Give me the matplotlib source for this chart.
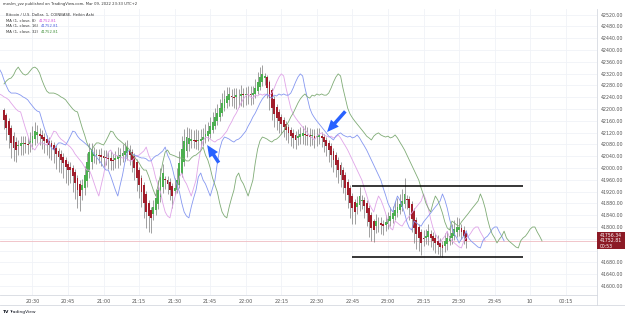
import matplotlib
matplotlib.use("Agg")
import matplotlib.pyplot as plt
from matplotlib.patches import Rectangle
from matplotlib.lines import Line2D
import numpy as np

# ---------------- data ----------------
# closes of the 32 one-minute bars before the first visible candle (only seen through the shifted MAs)
hist_close = [42285, 42295, 42302, 42305, 42315, 42332, 42342, 42329, 42319, 42315,
              42319, 42329, 42339, 42342, 42336, 42322, 42298, 42278, 42261, 42254,
              42254, 42254, 42251, 42247, 42241, 42237, 42231, 42220, 42210, 42200,
              42193, 42190]

# Heikin Ashi closes of the visible candles, 20:18 ... 23:33 (one per minute)
ha_close = [42163, 42136, 42112, 42085, 42068, 42061, 42075, 42085, 42085, 42081,
            42078, 42092, 42108, 42125, 42122, 42108, 42098, 42092, 42085, 42078,
            42071, 42061, 42047, 42037, 42027, 42017, 42003, 41993, 41993, 41973,
            41949, 41925, 41905, 41942, 41976, 42020, 42054, 42061, 42047, 42044,
            42041, 42037, 42034, 42034, 42031, 42024,
            42024, 42034, 42041, 42044, 42051, 42058, 42071, 42044, 42027, 42000,
            41966, 41942, 41919, 41881, 41851, 41837, 41831, 41868, 41898, 41925,
            41970, 41983, 41959, 41946, 41925, 41905, 41932, 41959, 42017, 42064,
            42092, 42105, 42102, 42098, 42092, 42088, 42095, 42098, 42105, 42115,
            42125, 42142, 42156, 42173, 42186, 42203, 42220, 42234, 42244, 42251,
            42241, 42237,
            42247, 42244, 42251, 42247, 42251, 42247, 42247, 42254, 42271, 42291,
            42308, 42319, 42312, 42271, 42237, 42203, 42183, 42170, 42159, 42149,
            42139, 42129, 42119, 42108, 42102, 42095, 42108, 42115, 42119, 42112,
            42108, 42105, 42108, 42102, 42105, 42112, 42102, 42088, 42075, 42061,
            42044, 42027, 42010, 41993, 41976, 41959, 41932, 41908, 41881,
            41864, 41851, 41881, 41905, 41892, 41871, 41847, 41817, 41797, 41790,
            41820, 41814, 41807, 41803, 41817, 41827, 41837, 41847, 41858, 41868,
            41878, 41888, 41912, 41892, 41864, 41827, 41797, 41776, 41763, 41746,
            41759, 41769, 41786, 41763, 41753, 41746, 41739, 41732, 41729, 41753,
            41763, 41769, 41780, 41793, 41800, 41800, 41783, 41769, 41752.81]
first_open = 42197

wick_up = [5, 8, 10, 10, 12, 15, 20, 25, 25, 25,
           25, 30, 35, 30, 25, 20, 15, 15, 12, 12,
           10, 10, 10, 10, 12, 12, 10, 10, 15, 10,
           10, 10, 12, 20, 30, 30, 30, 25, 25, 20,
           20, 25, 20, 25, 20, 25, 20, 25, 30, 25,
           30, 30, 25, 15, 12, 10, 10, 10, 10, 10,
           10, 10, 10, 25, 30, 35, 30, 30, 15, 15,
           12, 10, 35, 40, 40, 45, 40, 35, 35, 35,
           35, 40, 35, 35, 30, 35, 30, 30, 35, 30,
           30, 30, 35, 30, 30, 25, 25, 30, 25, 25,
           30, 25, 25, 30, 30, 25, 30, 35, 35, 30,
           10, 8, 8, 8, 10, 10, 10, 10, 10, 10,
           10, 10, 12, 15, 25, 25, 25, 30, 25, 25,
           25, 25, 30, 25, 15, 10, 10, 10, 10, 10,
           10, 10, 10, 10, 10, 10, 10, 10, 10, 25,
           30, 15, 10, 10, 10, 10, 10, 25, 20, 20,
           15, 25, 25, 30, 25, 30, 30, 35, 40, 55,
           15, 10, 10, 10, 10, 10, 10, 25, 25, 25,
           15, 15, 15, 20, 15, 15, 25, 25, 30, 30,
           30, 35, 30, 15, 15, 12]
wick_dn = [30, 40, 45, 50, 45, 40, 30, 30, 35, 30,
           30, 25, 20, 20, 25, 30, 35, 40, 40, 45,
           45, 45, 50, 50, 45, 50, 55, 50, 45, 55,
           55, 60, 50, 35, 25, 20, 20, 25, 25, 30,
           25, 30, 30, 25, 35, 30, 30, 25, 30, 25,
           20, 20, 25, 35, 40, 40, 45, 45, 50, 50,
           55, 55, 50, 20, 15, 15, 15, 20, 30, 35,
           35, 40, 15, 10, 10, 10, 15, 20, 25, 25,
           25, 25, 30, 25, 20, 15, 15, 15, 10, 10,
           12, 12, 10, 10, 15, 20, 30, 35, 40, 35,
           35, 40, 35, 30, 35, 30, 15, 10, 10, 15,
           25, 35, 40, 40, 45, 40, 40, 35, 35, 35,
           35, 35, 35, 30, 25, 25, 30, 35, 30, 30,
           30, 35, 30, 25, 30, 35, 35, 40, 40, 40,
           40, 45, 40, 45, 40, 45, 50, 55, 40, 25,
           20, 30, 40, 45, 50, 45, 40, 25, 30, 30,
           30, 20, 20, 15, 15, 15, 15, 15, 15, 15,
           30, 40, 45, 50, 50, 45, 40, 25, 20, 25,
           30, 30, 35, 30, 30, 30, 20, 20, 15, 20,
           15, 15, 20, 25, 25, 25]

ma_offsets = [8, 16, 32]
ma_labels = ["MA (1, close, 8)", "MA (1, close, 16)", "MA (1, close, 32)"]
ma_colors = ["#e0a4e8", "#8597f0", "#7fab75"]
ma_text_colors = ["#d24fd8", "#4a5fe0", "#3f8f38"]

time_labels = ["20:30", "20:45", "21:00", "21:15", "21:30", "21:45", "22:00", "22:15",
               "22:30", "22:45", "23:00", "23:15", "23:30", "23:45", "10", "00:15"]
time_minutes = [12, 27, 42, 57, 72, 87, 102, 117, 132, 147, 162, 177, 192, 207, 222, 237]

price_ticks = [41600, 41640, 41680, 41800, 41840, 41880, 41920, 41960, 42000, 42040,
               42080, 42120, 42160, 42200, 42240, 42280, 42320, 42360, 42400, 42440,
               42480, 42520]

range_top = 41939
range_bottom = 41698

# ---------------- figure ----------------
W, H = 625, 317
fig = plt.figure(figsize=(W / 100, H / 100), dpi=100)
fig.patch.set_facecolor("white")

def fy(py):
    return 1 - py / H

ax = fig.add_axes([0, fy(295), 597 / W, (295 - 9) / H])
ax.set_facecolor("white")

n = len(ha_close)
closes = np.array(ha_close, dtype=float)
opens = np.empty(n)
opens[0] = first_open
for i in range(1, n):
    opens[i] = (opens[i - 1] + closes[i - 1]) / 2
tops = np.maximum(opens, closes)
bots = np.minimum(opens, closes)
highs = tops + np.array(wick_up)
lows = bots - np.array(wick_dn)
idx = np.arange(n)

green = "#4caf50"
red = "#a11d2b"
cols = [green if c >= o else red for o, c in zip(opens, closes)]

# grid
for t in time_minutes:
    ax.axvline(t, color="#f0f2f7", lw=0.6, zorder=0)
for p in price_ticks + [41720, 41760]:
    ax.axhline(p, color="#f0f2f7", lw=0.6, zorder=0)

# last price line
ax.axhline(ha_close[-1], color="#efbcc1", lw=0.6, zorder=1)

# wicks and bodies
ax.vlines(idx, lows, highs, color="#7a7a7a", lw=0.5, zorder=2)
heights = np.maximum(tops - bots, 2.5)
ax.bar(idx, heights, bottom=bots, width=0.78, color=cols, linewidth=0, zorder=3)

# MA lines (length 1 = close, shifted forward by offset)
all_close = np.array(hist_close + ha_close, dtype=float)
base_x = np.arange(len(all_close)) - len(hist_close)
for off, c in zip(ma_offsets, ma_colors):
    ax.plot(base_x + off, all_close, color=c, lw=0.6, zorder=4)

# range lines
ax.hlines([range_top, range_bottom], 146.8, 219, color="black", lw=1.1, zorder=5)

# arrows (head, tail)
arrow_style = dict(arrowstyle="simple,head_width=0.75,head_length=0.85,tail_width=0.25",
                   color="#2962ff", lw=0, shrinkA=0, shrinkB=0)
ax.annotate("", xy=(85.7, 42078), xytext=(90.6, 42018), arrowprops=arrow_style, zorder=6)
ax.annotate("", xy=(136.3, 42122), xytext=(144.0, 42192), arrowprops=arrow_style, zorder=6)

ax.set_xlim(-1.7, 250.2)
ax.set_ylim(41569.5, 42539)

# axes styling
for s in ["left", "top"]:
    ax.spines[s].set_visible(False)
ax.spines["right"].set_color("#d6d9e0")
ax.spines["right"].set_linewidth(0.6)
ax.spines["bottom"].set_color("#d6d9e0")
ax.spines["bottom"].set_linewidth(0.6)

ax.set_xticks(time_minutes)
ax.set_xticklabels(time_labels, fontsize=3.6, color="#555555")
ax.tick_params(axis="x", length=0, pad=3)
ax.yaxis.tick_right()
ax.set_yticks(price_ticks)
ax.set_yticklabels([f"{p:.2f}" for p in price_ticks], fontsize=3.4, color="#555555")
ax.tick_params(axis="y", length=0, pad=3)

# frame lines
fig.add_artist(Line2D([0, 1], [fy(305), fy(305)], transform=fig.transFigure,
                      color="#d6d9e0", lw=0.6))
fig.add_artist(Line2D([597 / W, 597 / W], [fy(305), fy(295)], transform=fig.transFigure,
                      color="#d6d9e0", lw=0.6))

# last price tag
fig.patches.append(Rectangle((597 / W, fy(249)), 28 / W, 17 / H, transform=fig.transFigure,
                             facecolor="#8c1a25", edgecolor="none", zorder=10))
for txt, py in zip(["41756.34", f"{ha_close[-1]:.2f}", "00:53"], [235.5, 240.8, 246]):
    fig.text(600 / W, fy(py), txt, fontsize=3.3, color="white", va="center", ha="left",
             zorder=11)

# header and legend
fs = 2.7
fig.text(3 / W, fy(4), "moslm_yzz published on TradingView.com, Mar 09, 2022 23:33 UTC+2",
         fontsize=fs, color="#333333", va="center", ha="left")
fig.text(6 / W, fy(15), "Bitcoin / U.S. Dollar, 1, COINBASE, Heikin Ashi",
         fontsize=fs, color="#333333", va="center", ha="left")
fig.canvas.draw()
renderer = fig.canvas.get_renderer()
for i, (lab, tc) in enumerate(zip(ma_labels, ma_text_colors)):
    yy = fy(20.5 + 5.8 * i)
    t = fig.text(6 / W, yy, lab, fontsize=fs, color="#333333", va="center", ha="left")
    bb = t.get_window_extent(renderer=renderer)
    fig.text((bb.x1 + 3) / W, yy, f"{ha_close[-1]:.2f}", fontsize=fs,
             color=tc, va="center", ha="left")

# footer logo
fig.text(3 / W, fy(312), "TV", fontsize=3.2, color="#131722", weight="bold",
         va="center", ha="left")
fig.text(9.5 / W, fy(312), "TradingView", fontsize=3.2, color="#131722",
         va="center", ha="left")

fig.savefig("out.png", dpi=100)
